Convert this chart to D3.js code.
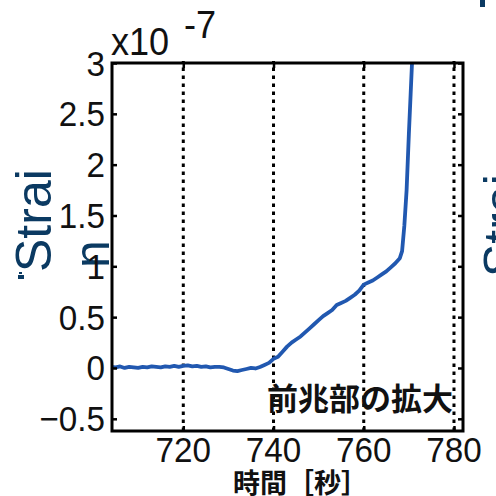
<!DOCTYPE html>
<html>
<head>
<meta charset="utf-8">
<script src="https://cdn.jsdelivr.net/npm/d3@7"></script>
<style>
html,body{margin:0;padding:0;background:#fff;}
svg{display:block;}
</style>
</head>
<body>
<svg id="chart" width="496" height="496"></svg>
<script>
// ---- data ----
const times = [704,705,706,707,708,709,710,711,712,713,714,715,716,717,718,719,720,721,722,723,724,725,726,727,728,729,730,731,732,733,734,735,736,737,738,739,740,741,742,743,744,745,746,747,748,749,750,751,752,753,754,755,756,757,758,759,760,761,762,763,764,765,766,767,768,768.5,769,769.5,770,770.4,770.7];
const strain = [0.01,0.005,0.015,0.0,0.01,0.005,0.0,0.01,0.005,0.015,0.01,0.005,0.015,0.01,0.02,0.01,0.02,0.025,0.015,0.02,0.01,0.015,0.005,0.01,0.01,0.005,-0.01,-0.025,-0.03,-0.02,-0.01,0.0,-0.005,0.01,0.03,0.05,0.09,0.11,0.16,0.21,0.25,0.28,0.31,0.35,0.39,0.43,0.47,0.51,0.54,0.57,0.62,0.64,0.66,0.69,0.72,0.76,0.82,0.84,0.86,0.89,0.92,0.95,0.99,1.03,1.08,1.15,1.4,1.75,2.3,2.7,3.0];
const xTicks = [720,740,760,780];
const yTicks = [-0.5,0,0.5,1,1.5,2,2.5,3];
const xLabel = "時間［秒］";
const annotation = "前兆部の拡大";
const exponentBase = "x10";
const exponent = "-7";
const sideLabel = "Strai";
const sideLabel2 = "n";

// ---- layout ----
const svg = d3.select("#chart");
const L = 112, R = 463, T = 63, B = 431;
const x = d3.scaleLinear().domain([704.2, 782]).range([L, R]);
const y = d3.scaleLinear().domain([-0.62, 3]).range([B, T]);
const numFont = "'Liberation Sans', Arial, sans-serif";
const cjkFont = "'Noto Sans CJK JP', sans-serif";
const navy = "#0b3a62";

// side label fragments
svg.append("text")
  .attr("transform", `translate(51,272) rotate(-90)`)
  .attr("font-family", numFont).attr("font-size", 50).attr("fill", navy)
  .text(sideLabel);
svg.append("text")
  .attr("transform", `translate(109,268) rotate(-90)`)
  .attr("font-family", numFont).attr("font-size", 50).attr("fill", navy)
  .text(sideLabel2);
svg.append("text")
  .attr("transform", `translate(519,277) rotate(-90)`)
  .attr("font-family", numFont).attr("font-size", 50).attr("fill", navy)
  .text(sideLabel);
svg.append("rect").attr("x", 19).attr("y", 272).attr("width", 3).attr("height", 2).attr("fill", navy);
svg.append("rect").attr("x", 18).attr("y", 275).attr("width", 6).attr("height", 4).attr("fill", navy);
svg.append("rect").attr("x", 480).attr("y", 0).attr("width", 5).attr("height", 7).attr("fill", navy);

// grid (dotted)
svg.append("g").selectAll("line").data(xTicks).join("line")
  .attr("x1", d => x(d)).attr("x2", d => x(d))
  .attr("y1", B).attr("y2", T - 2)
  .attr("stroke", "#000").attr("stroke-width", 3)
  .attr("stroke-dasharray", "3.5,4.5");

// data line
const line = d3.line().x((d, i) => x(times[i])).y(d => y(d));
svg.append("path").datum(strain)
  .attr("d", line)
  .attr("fill", "none").attr("stroke", "#2158b0").attr("stroke-width", 3.8)
  .attr("stroke-linejoin", "round");

// axes frame
const axB = d3.axisBottom(x).tickValues(xTicks).tickSize(-5).tickFormat("");
const axT = d3.axisTop(x).tickValues(xTicks).tickSize(-5).tickFormat("");
const axL = d3.axisLeft(y).tickValues(yTicks).tickSize(-5).tickFormat("");
const axR = d3.axisRight(y).tickValues(yTicks).tickSize(-5).tickFormat("");
function styleAxis(g){
  g.selectAll(".tick line").attr("stroke", "#000").attr("stroke-width", 2.5);
}
svg.append("g").attr("transform", `translate(0,${B})`).call(axB).call(styleAxis);
svg.append("g").attr("transform", `translate(0,${T})`).call(axT).call(styleAxis);
svg.append("g").attr("transform", `translate(${L},0)`).call(axL).call(styleAxis);
svg.append("g").attr("transform", `translate(${R},0)`).call(axR).call(styleAxis);
svg.selectAll(".domain").remove();
svg.append("rect").attr("x", L).attr("y", T).attr("width", R - L).attr("height", B - T)
  .attr("fill", "none").attr("stroke", "#000").attr("stroke-width", 3);

// tick labels
svg.append("g").selectAll("text").data(yTicks).join("text")
  .attr("transform", d => `translate(${L - 7},${y(d) + 12.5}) scale(0.95,1)`)
  .attr("text-anchor", "end")
  .attr("font-family", numFont).attr("font-size", 35).attr("fill", "#111")
  .text(d => d3.format("")(d));
svg.append("g").selectAll("text").data(xTicks).join("text")
  .attr("transform", d => `translate(${x(d)},462) scale(0.95,1)`)
  .attr("text-anchor", "middle")
  .attr("font-family", numFont).attr("font-size", 35).attr("fill", "#111")
  .text(d => d);

// exponent
svg.append("text").attr("transform", "translate(111,55) scale(0.95,1)")
  .attr("font-family", numFont).attr("font-size", 38).attr("fill", "#111")
  .text(exponentBase);
svg.append("text").attr("transform", "translate(184,38) scale(0.95,1)")
  .attr("font-family", numFont).attr("font-size", 38).attr("fill", "#111")
  .text(exponent);

// annotation & axis label
svg.append("text").attr("x", 267).attr("y", 410)
  .attr("font-family", cjkFont).attr("font-weight", "bold").attr("font-size", 31).attr("fill", "#111")
  .attr("textLength", 186).attr("lengthAdjust", "spacingAndGlyphs")
  .text(annotation);
svg.append("text").attr("x", 233).attr("y", 493)
  .attr("font-family", cjkFont).attr("font-weight", "bold").attr("font-size", 27).attr("fill", "#111")
  .text(xLabel);
</script>
</body>
</html>
